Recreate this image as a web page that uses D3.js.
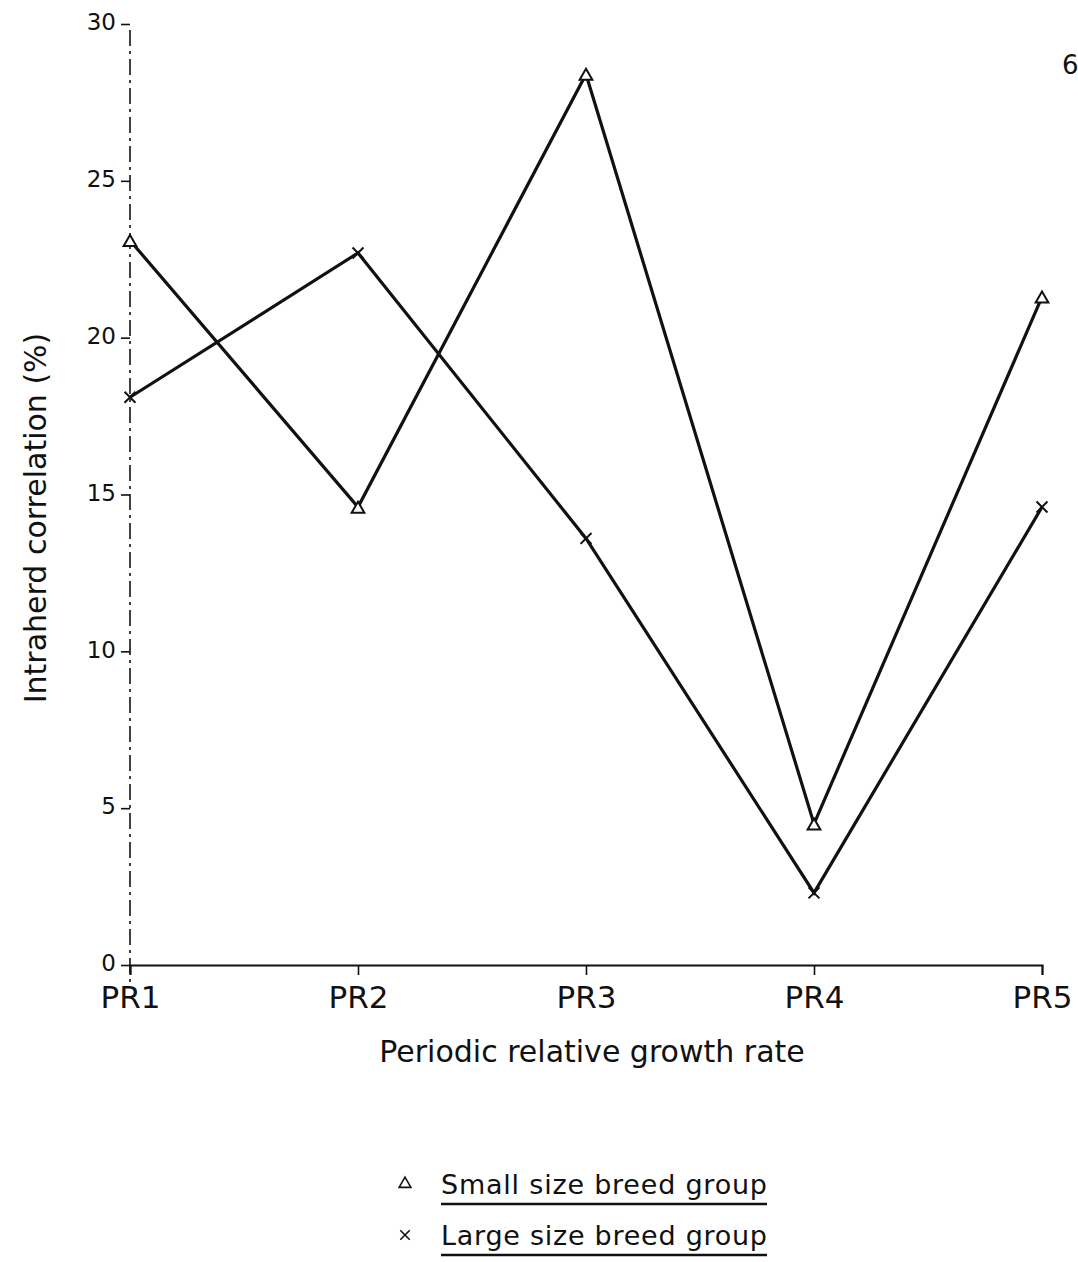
<!DOCTYPE html>
<html>
<head>
<meta charset="utf-8">
<script src="https://cdn.jsdelivr.net/npm/d3@7"></script>
<style>
  body { margin: 0; background: #fff; }
  svg text { font-family: "DejaVu Sans", sans-serif; fill: #111; }
</style>
</head>
<body>
<svg id="chart" width="1078" height="1262"></svg>
<script>
const categories = ["PR1", "PR2", "PR3", "PR4", "PR5"];
const smallSize = [23.1, 14.6, 28.4, 4.5, 21.3];
const largeSize = [18.1, 22.7, 13.6, 2.3, 14.6];
const yTicks = [0, 5, 10, 15, 20, 25, 30];

const svg = d3.select("#chart");

// scales
let xScale = d3.scalePoint().domain(categories).range([130, 1042]);
let yScale = d3.scaleLinear().domain([0, 30]).range([965, 24]);

// y axis (scanned look: broken line)
svg.append("line")
  .attr("x1", xScale("PR1")).attr("x2", xScale("PR1"))
  .attr("y1", yScale(30) + 6).attr("y2", yScale(0) + 18)
  .attr("stroke", "#111").attr("stroke-width", 1.6)
  .attr("stroke-dasharray", "16 5 3 5");

let yAxis = d3.axisLeft(yScale).tickValues(yTicks).tickSize(9).tickPadding(5);
let yG = svg.append("g")
  .attr("transform", "translate(" + xScale("PR1") + ",0)")
  .call(yAxis);
yG.select(".domain").remove();
yG.selectAll(".tick line").attr("stroke", "#111").attr("stroke-width", 1.6);
yG.selectAll(".tick text")
  .attr("font-size", 23)
  .attr("dy", "0.25em")
  .style("font-family", "DejaVu Sans, sans-serif")
  .attr("fill", "#111");

// x axis
let xAxis = d3.axisBottom(xScale).tickSize(10).tickPadding(2);
let xG = svg.append("g")
  .attr("transform", "translate(0," + yScale(0) + ")")
  .call(xAxis);
xG.select(".domain").attr("stroke", "#111").attr("stroke-width", 2);
xG.selectAll(".tick line").attr("stroke", "#111").attr("stroke-width", 1.6);
xG.selectAll(".tick text")
  .attr("font-size", 31)
  .attr("dy", "1em")
  .style("font-family", "DejaVu Sans, sans-serif")
  .attr("fill", "#111");

// axis titles
svg.append("text")
  .attr("x", 592).attr("y", 1062)
  .attr("text-anchor", "middle")
  .attr("font-size", 30)
  .text("Periodic relative growth rate");

svg.append("text")
  .attr("transform", "translate(46,518) rotate(-90)")
  .attr("text-anchor", "middle")
  .attr("font-size", 30)
  .text("Intraherd correlation (%)");

// page number
svg.append("text")
  .attr("x", 1062).attr("y", 74)
  .attr("font-size", 26)
  .text("6");

// lines
let line = d3.line()
  .x((d, i) => xScale(categories[i]))
  .y(d => yScale(d));

svg.append("path").datum(smallSize)
  .attr("d", line)
  .attr("fill", "none").attr("stroke", "#111").attr("stroke-width", 3.2);

svg.append("path").datum(largeSize)
  .attr("d", line)
  .attr("fill", "none").attr("stroke", "#111").attr("stroke-width", 3.2);

// markers
let tri = d3.symbol().type(d3.symbolTriangle).size(70);
svg.selectAll(".tri").data(smallSize).enter().append("path")
  .attr("class", "tri")
  .attr("d", tri)
  .attr("transform", (d, i) => "translate(" + xScale(categories[i]) + "," + (yScale(d) + 2) + ")")
  .attr("fill", "#fff").attr("stroke", "#111").attr("stroke-width", 2);

let cross = d3.symbol().type(d3.symbolX).size(80);
svg.selectAll(".crs").data(largeSize).enter().append("path")
  .attr("class", "crs")
  .attr("d", cross)
  .attr("transform", (d, i) => "translate(" + xScale(categories[i]) + "," + yScale(d) + ")")
  .attr("fill", "none").attr("stroke", "#111").attr("stroke-width", 2);

// legend
const legendItems = [
  { label: "Small size breed group", sym: d3.symbolTriangle },
  { label: "Large size breed group", sym: d3.symbolX }
];
let leg = svg.selectAll(".leg").data(legendItems).enter().append("g")
  .attr("class", "leg")
  .attr("transform", (d, i) => "translate(0," + (1184 + i * 51) + ")");

leg.append("path")
  .attr("d", d => d3.symbol().type(d.sym).size(60)())
  .attr("transform", "translate(405,0)")
  .attr("fill", "none").attr("stroke", "#111").attr("stroke-width", 1.6);

leg.append("text")
  .attr("x", 441).attr("y", 10)
  .attr("font-size", 27)
  .attr("textLength", 326)
  .text(d => d.label);

leg.append("line")
  .attr("x1", 441).attr("x2", 767)
  .attr("y1", 20).attr("y2", 20)
  .attr("stroke", "#111").attr("stroke-width", 2.5);
</script>
</body>
</html>
